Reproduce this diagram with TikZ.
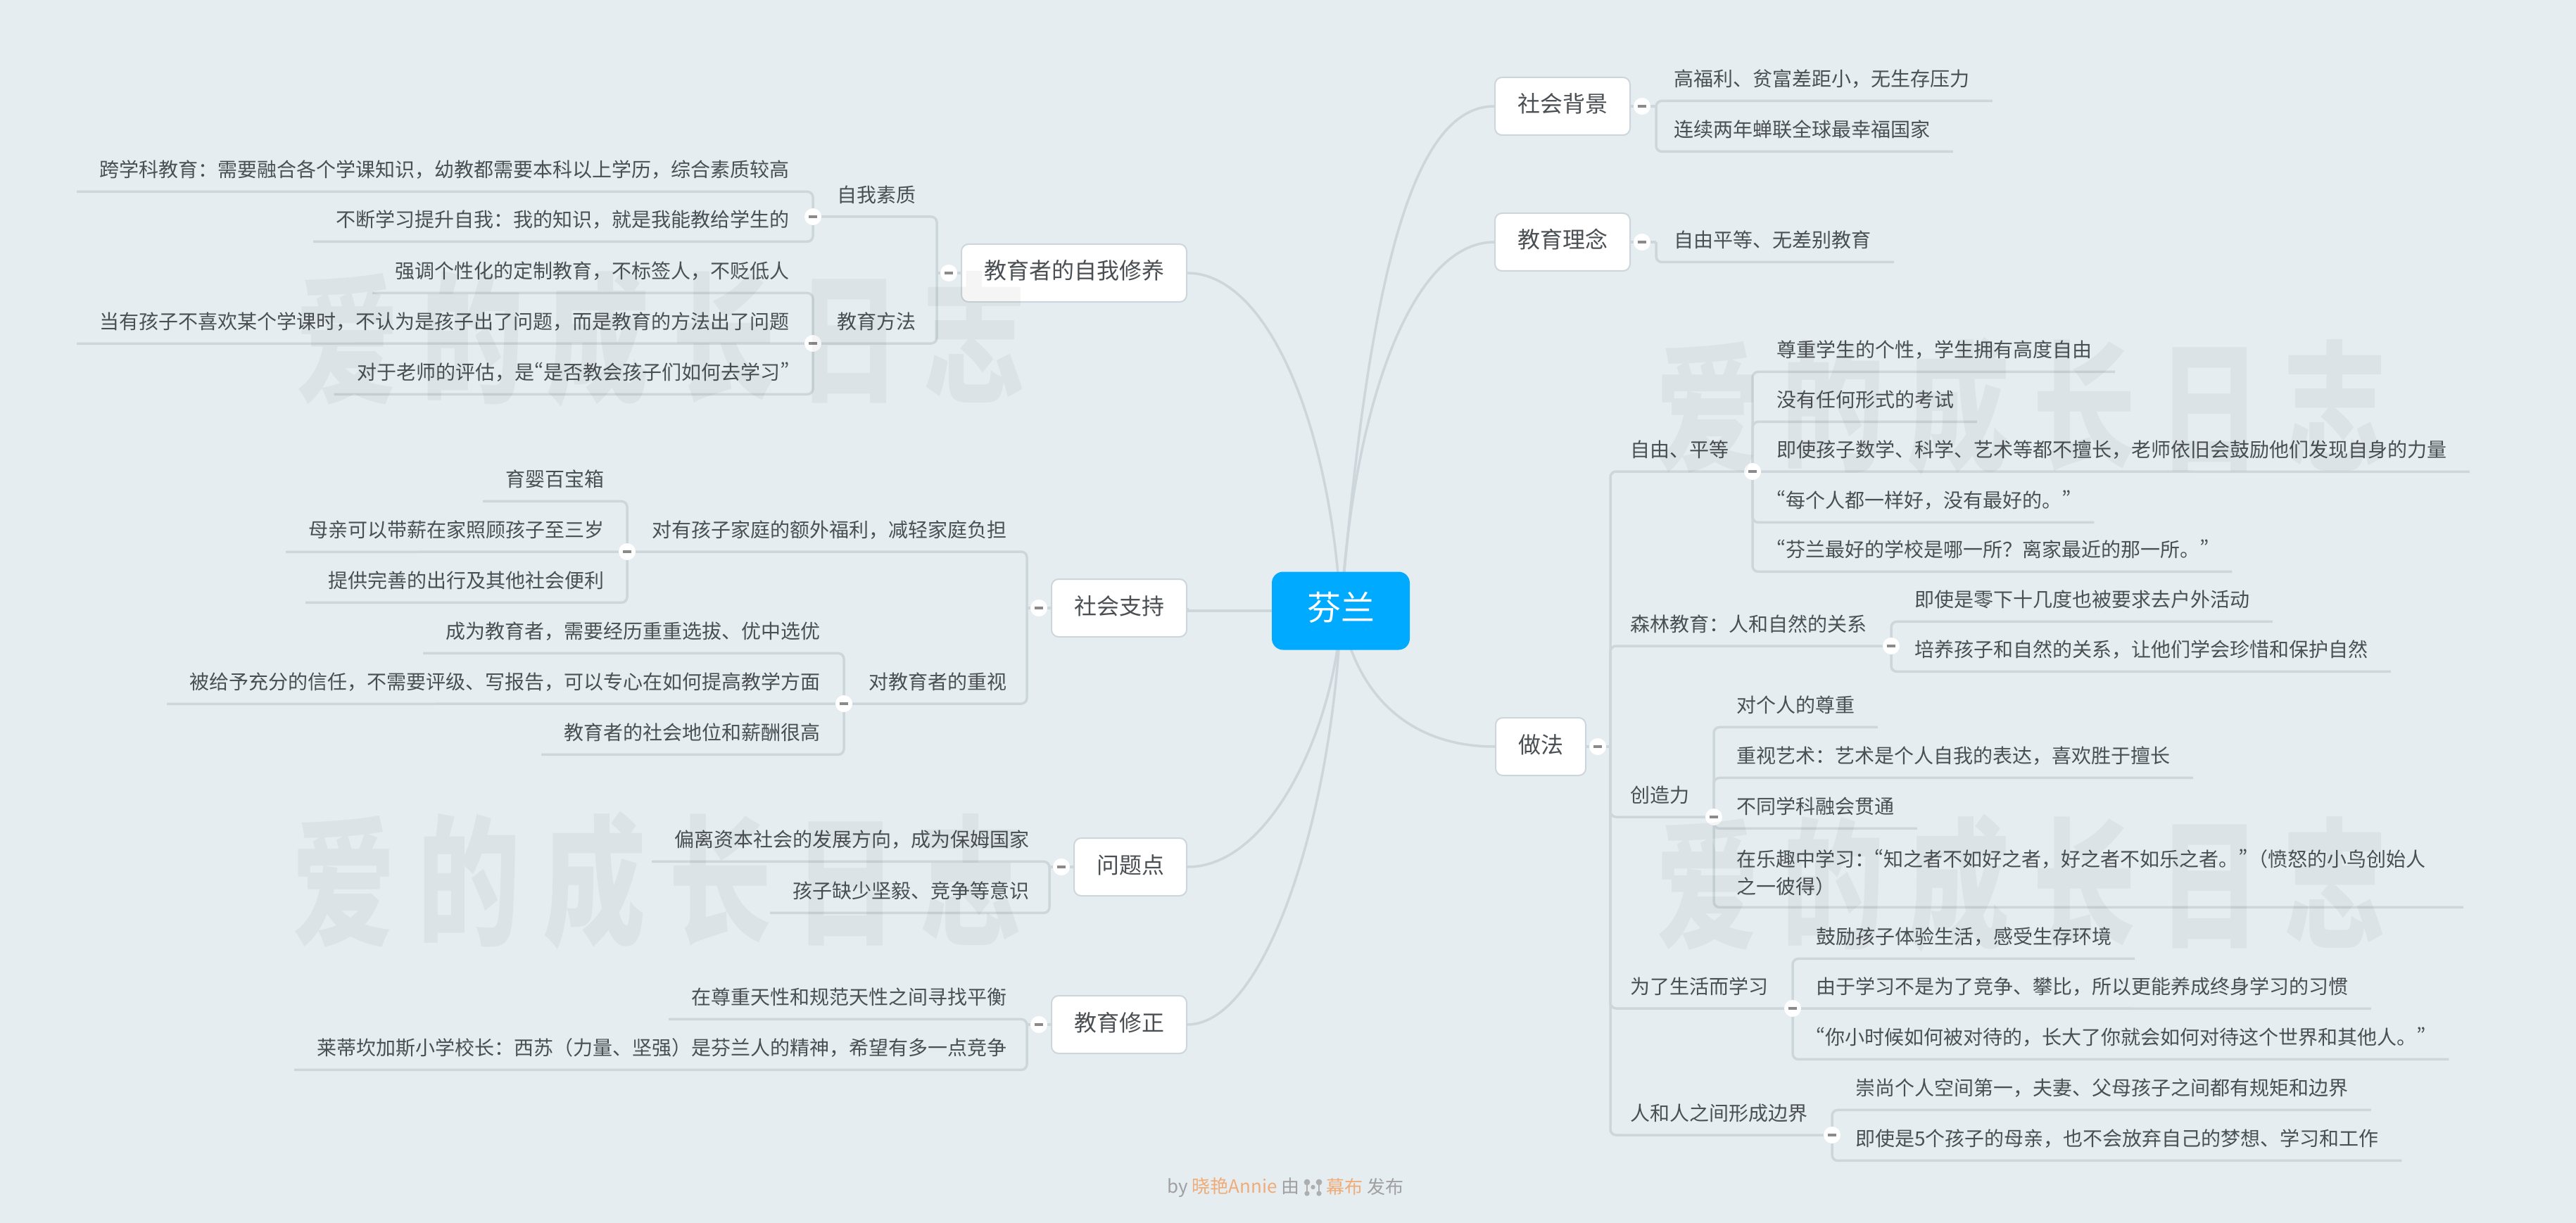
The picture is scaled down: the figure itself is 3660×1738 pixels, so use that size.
\documentclass[tikz,border=0pt]{standalone}
\usepackage{fontspec}
\usetikzlibrary{backgrounds}
\setmainfont{Noto Sans CJK SC}
\newfontfamily\wmfont[LetterSpace=22]{Noto Sans CJK SC Black}
\newfontfamily\pwfont[RawFeature=+pwid]{Noto Sans CJK SC}
\newcommand{\openq}{{\pwfont “}}
\newcommand{\closeq}{{\pwfont ”}}
\definecolor{pagebg}{HTML}{E5EDF1}
\definecolor{linkc}{HTML}{CDD6DA}
\definecolor{txtc}{HTML}{4A4F53}
\definecolor{rootc}{HTML}{00AAFF}
\definecolor{minusc}{HTML}{8A8A8A}
\definecolor{footc}{HTML}{A0A0A0}
\definecolor{logoc}{HTML}{AEAEAE}
\definecolor{orangec}{HTML}{F0AC78}
\begin{document}
\begin{tikzpicture}[x=0.5pt,y=0.5pt]
  \tikzstyle{every node}+=[inner sep=0pt]
  \tikzstyle{rootbox}=[fill=rootc, text=white, rounded corners=8pt, minimum width=98pt, minimum height=55.5pt, font=\fontsize{24pt}{28pt}\selectfont, text height=18.6pt, text depth=5.4pt]
  \tikzstyle{topic}=[draw=linkc, line width=1pt, fill=white, text=txtc, rounded corners=5pt, minimum height=41pt, inner xsep=16pt, font=\fontsize{16pt}{20pt}\selectfont, text height=9.5pt, text depth=.5pt]
  \tikzstyle{leaf}=[text=txtc, minimum height=30pt, font=\fontsize{14pt}{19.5pt}\selectfont, inner xsep=16pt, text height=9.7pt, text depth=.3pt]
  \tikzstyle{leafr}=[leaf, anchor=west, xshift=-16pt]
  \tikzstyle{leafl}=[leaf, anchor=east, xshift=16pt]
  \tikzstyle{tog}=[circle, fill=white, minimum size=12pt, path picture={\draw[minusc, line width=1.6pt] ([xshift=-3.2pt]path picture bounding box.center) -- ([xshift=3.2pt]path picture bounding box.center);}]
  \tikzstyle{link}=[draw=linkc, line width=1.75pt, rounded corners=4pt]
  \tikzstyle{wmark}=[opacity=.04, text=black, xscale=.73, transform shape, font=\wmfont\fontsize{100pt}{100pt}\selectfont]

  \useasboundingbox (0,0) rectangle (3660,-1738);
  \begin{scope}[on background layer]
    \fill [pagebg] (0,0) rectangle (3660,-1738);
  \end{scope}

  \node [rootbox] (root) at (1905,-868) {芬兰};

  \node [topic, anchor=west] (bg) at (2123,-151) {社会背景};
  \node [tog] (tbg) at (2333,-151) {};
  \coordinate (jbg) at (2353,-151);
  \node [leafr] (bg1) at (2378,-113) {高福利、贫富差距小，无生存压力};
  \node [leafr] (bg2) at (2378,-185) {连续两年蝉联全球最幸福国家};

  \node [topic, anchor=west] (idea) at (2123,-344) {教育理念};
  \node [tog] (tidea) at (2333,-344) {};
  \coordinate (jidea) at (2353,-344);
  \node [leafr] (idea1) at (2378,-342) {自由平等、无差别教育};

  \node [topic, anchor=west] (way) at (2124,-1061) {做法};
  \node [tog] (tway) at (2270,-1061) {};
  \coordinate (jway) at (2288,-1061);

  \node [leafr] (free) at (2316,-640) {自由、平等};
  \node [tog] (tfree) at (2490,-670) {};
  \node [leafr] (free1) at (2524,-498) {尊重学生的个性，学生拥有高度自由};
  \node [leafr] (free2) at (2524,-569) {没有任何形式的考试};
  \node [leafr] (free3) at (2524,-640) {即使孩子数学、科学、艺术等都不擅长，老师依旧会鼓励他们发现自身的力量};
  \node [leafr] (free4) at (2524,-712) {\openq 每个人都一样好，没有最好的。\closeq};
  \node [leafr] (free5) at (2524,-782) {\openq 芬兰最好的学校是哪一所？离家最近的那一所。\closeq};

  \node [leafr] (wood) at (2316,-888) {森林教育：人和自然的关系};
  \node [tog] (twood) at (2687,-918) {};
  \node [leafr] (wood1) at (2720,-853) {即使是零下十几度也被要求去户外活动};
  \node [leafr] (wood2) at (2720,-924) {培养孩子和自然的关系，让他们学会珍惜和保护自然};

  \node [leafr] (make) at (2316,-1131) {创造力};
  \node [tog] (tmake) at (2435,-1161) {};
  \node [leafr] (make1) at (2467,-1003) {对个人的尊重};
  \node [leafr] (make2) at (2467,-1075) {重视艺术：艺术是个人自我的表达，喜欢胜于擅长};
  \node [leafr] (make3) at (2467,-1147) {不同学科融会贯通};
  \node [text=txtc, anchor=west, xshift=-16pt, inner xsep=16pt, minimum height=49pt, text width=500pt, align=left, font=\fontsize{14pt}{19.5pt}\selectfont] (make4) at (2467,-1240) {在乐趣中学习：\openq 知之者不如好之者，好之者不如乐之者。\closeq（愤怒的小鸟创始人\\之一彼得）};

  \node [leafr] (live) at (2316,-1403) {为了生活而学习};
  \node [tog] (tlive) at (2547,-1433) {};
  \node [leafr] (live1) at (2580,-1332) {鼓励孩子体验生活，感受生存环境};
  \node [leafr] (live2) at (2580,-1403) {由于学习不是为了竞争、攀比，所以更能养成终身学习的习惯};
  \node [leafr] (live3) at (2580,-1475) {\openq 你小时候如何被对待的，长大了你就会如何对待这个世界和其他人。\closeq};

  \node [leafr] (edge) at (2316,-1583) {人和人之间形成边界};
  \node [tog] (tedge) at (2603,-1613) {};
  \node [leafr] (edge1) at (2636,-1547) {崇尚个人空间第一，夫妻、父母孩子之间都有规矩和边界};
  \node [leafr] (edge2) at (2636,-1619) {即使是5个孩子的母亲，也不会放弃自己的梦想、学习和工作};

  \node [topic, anchor=east] (self) at (1687,-388) {教育者的自我修养};
  \node [tog] (tself) at (1348,-388) {};
  \coordinate (jself) at (1331,-388);
  \node [leafl] (qual) at (1302,-278) {自我素质};
  \node [tog] (tqual) at (1155,-308) {};
  \node [leafl] (qual1) at (1122,-242) {跨学科教育：需要融合各个学课知识，幼教都需要本科以上学历，综合素质较高};
  \node [leafl] (qual2) at (1122,-313) {不断学习提升自我：我的知识，就是我能教给学生的};
  \node [leafl] (meth) at (1302,-458) {教育方法};
  \node [tog] (tmeth) at (1155,-488) {};
  \node [leafl] (meth1) at (1122,-386) {强调个性化的定制教育，不标签人，不贬低人};
  \node [leafl] (meth2) at (1122,-458) {当有孩子不喜欢某个学课时，不认为是孩子出了问题，而是教育的方法出了问题};
  \node [leafl] (meth3) at (1122,-530) {对于老师的评估，是\openq 是否教会孩子们如何去学习\closeq};

  \node [topic, anchor=east] (help) at (1687,-864) {社会支持};
  \node [tog] (thelp) at (1476,-864) {};
  \coordinate (jhelp) at (1459,-864);
  \node [leafl] (fam) at (1431,-754) {对有孩子家庭的额外福利，减轻家庭负担};
  \node [tog] (tfam) at (891,-784) {};
  \node [leafl] (fam1) at (859,-682) {育婴百宝箱};
  \node [leafl] (fam2) at (859,-754) {母亲可以带薪在家照顾孩子至三岁};
  \node [leafl] (fam3) at (859,-826) {提供完善的出行及其他社会便利};
  \node [leafl] (tea) at (1431,-970) {对教育者的重视};
  \node [tog] (ttea) at (1199,-1000) {};
  \node [leafl] (tea1) at (1166,-898) {成为教育者，需要经历重重选拔、优中选优};
  \node [leafl] (tea2) at (1166,-970) {被给予充分的信任，不需要评级、写报告，可以专心在如何提高教学方面};
  \node [leafl] (tea3) at (1166,-1042) {教育者的社会地位和薪酬很高};

  \node [topic, anchor=east] (prob) at (1687,-1232) {问题点};
  \node [tog] (tprob) at (1508,-1232) {};
  \coordinate (jprob) at (1491,-1232);
  \node [leafl] (prob1) at (1463,-1194) {偏离资本社会的发展方向，成为保姆国家};
  \node [leafl] (prob2) at (1463,-1267) {孩子缺少坚毅、竞争等意识};

  \node [topic, anchor=east] (fix) at (1687,-1456) {教育修正};
  \node [tog] (tfix) at (1476,-1456) {};
  \coordinate (jfix) at (1459,-1456);
  \node [leafl] (fix1) at (1431,-1418) {在尊重天性和规范天性之间寻找平衡};
  \node [leafl] (fix2) at (1431,-1490) {莱蒂坎加斯小学校长：西苏（力量、坚强）是芬兰人的精神，希望有多一点竞争};

  \begin{scope}[on background layer]
    \draw [link] (root.center) .. controls (1945,-400) and (2005,-151) .. (bg.west);
    \draw [link] (root.center) .. controls (1925,-560) and (2010,-344) .. (idea.west);
    \draw [link] (root.center) .. controls (1925,-985) and (2000,-1061) .. (way.west);
    \draw [link] (root.center) .. controls (1890,-600) and (1800,-388) .. (self.east);
    \draw [link] (root.center -| help.east) -- (help.east);
    \draw [link] (root.center) -- (root.center -| help.east);
    \draw [link] (root.center) .. controls (1900,-1020) and (1810,-1232) .. (prob.east);
    \draw [link] (root.center) .. controls (1895,-1150) and (1800,-1456) .. (fix.east);

    \draw [link] (bg.center) -- (jbg);
    \draw [link] (jbg) |- (bg1.south east);
    \draw [link] (jbg) |- (bg2.south east);
    \draw [link] (idea.center) -- (jidea);
    \draw [link] (jidea) |- (idea1.south east);

    \draw [link] (way.center) -- (jway);
    \draw [link] (jway) |- (tfree.center);
    \draw [link] (jway) |- (twood.center);
    \draw [link] (jway) |- (tmake.center);
    \draw [link] (jway) |- (tlive.center);
    \draw [link] (jway) |- (tedge.center);
    \draw [link] (tfree.center) |- (free1.south east);
    \draw [link] (tfree.center) |- (free2.south east);
    \draw [link] (tfree.center) -- (free3.south east);
    \draw [link] (tfree.center) |- (free4.south east);
    \draw [link] (tfree.center) |- (free5.south east);
    \draw [link] (twood.center) |- (wood1.south east);
    \draw [link] (twood.center) |- (wood2.south east);
    \draw [link] (tmake.center) |- (make1.south east);
    \draw [link] (tmake.center) |- (make2.south east);
    \draw [link] (tmake.center) |- (make3.south east);
    \draw [link] (tmake.center) |- (make4.south east);
    \draw [link] (tlive.center) |- (live1.south east);
    \draw [link] (tlive.center) -- (live2.south east);
    \draw [link] (tlive.center) |- (live3.south east);
    \draw [link] (tedge.center) |- (edge1.south east);
    \draw [link] (tedge.center) |- (edge2.south east);

    \draw [link] (self.center) -- (jself);
    \draw [link] (jself) |- (tqual.center);
    \draw [link] (jself) |- (tmeth.center);
    \draw [link] (tqual.center) |- (qual1.south west);
    \draw [link] (tqual.center) |- (qual2.south west);
    \draw [link] (tmeth.center) |- (meth1.south west);
    \draw [link] (tmeth.center) -- (meth2.south west);
    \draw [link] (tmeth.center) |- (meth3.south west);

    \draw [link] (help.center) -- (jhelp);
    \draw [link] (jhelp) |- (tfam.center);
    \draw [link] (jhelp) |- (ttea.center);
    \draw [link] (tfam.center) |- (fam1.south west);
    \draw [link] (tfam.center) -- (fam2.south west);
    \draw [link] (tfam.center) |- (fam3.south west);
    \draw [link] (ttea.center) |- (tea1.south west);
    \draw [link] (ttea.center) -- (tea2.south west);
    \draw [link] (ttea.center) |- (tea3.south west);

    \draw [link] (prob.center) -- (jprob);
    \draw [link] (jprob) |- (prob1.south west);
    \draw [link] (jprob) |- (prob2.south west);
    \draw [link] (fix.center) -- (jfix);
    \draw [link] (jfix) |- (fix1.south west);
    \draw [link] (jfix) |- (fix2.south west);
  \end{scope}

  \node [text=footc, anchor=east, font=\fontsize{13pt}{16pt}\selectfont] (footl) at (1847,-1687) {by {\color{orangec}晓艳Annie} 由};
  \node [text=footc, anchor=west, font=\fontsize{13pt}{16pt}\selectfont] (footr) at (1884,-1687) {{\color{orangec}幕布} 发布};
  \fill [logoc] (1857,-1680) circle (2.2pt);
  \fill [logoc] (1857,-1696) circle (1.8pt);
  \draw [logoc, line width=1.2pt] (1857,-1680) -- (1857,-1696);
  \fill [logoc] (1874,-1680) circle (2.2pt);
  \fill [logoc] (1874,-1696) circle (1.8pt);
  \draw [logoc, line width=1.2pt] (1874,-1680) -- (1874,-1696);
  \fill [logoc] (1865.5,-1687) circle (1.6pt);

  \node [wmark] (wma) at (939,-480) {爱的成长日志};
  \node [wmark] (wmb) at (934,-1251) {爱的成长日志};
  \node [wmark] (wmc) at (2872,-577) {爱的成长日志};
  \node [wmark] (wmd) at (2872,-1255) {爱的成长日志};
\end{tikzpicture}
\end{document}
